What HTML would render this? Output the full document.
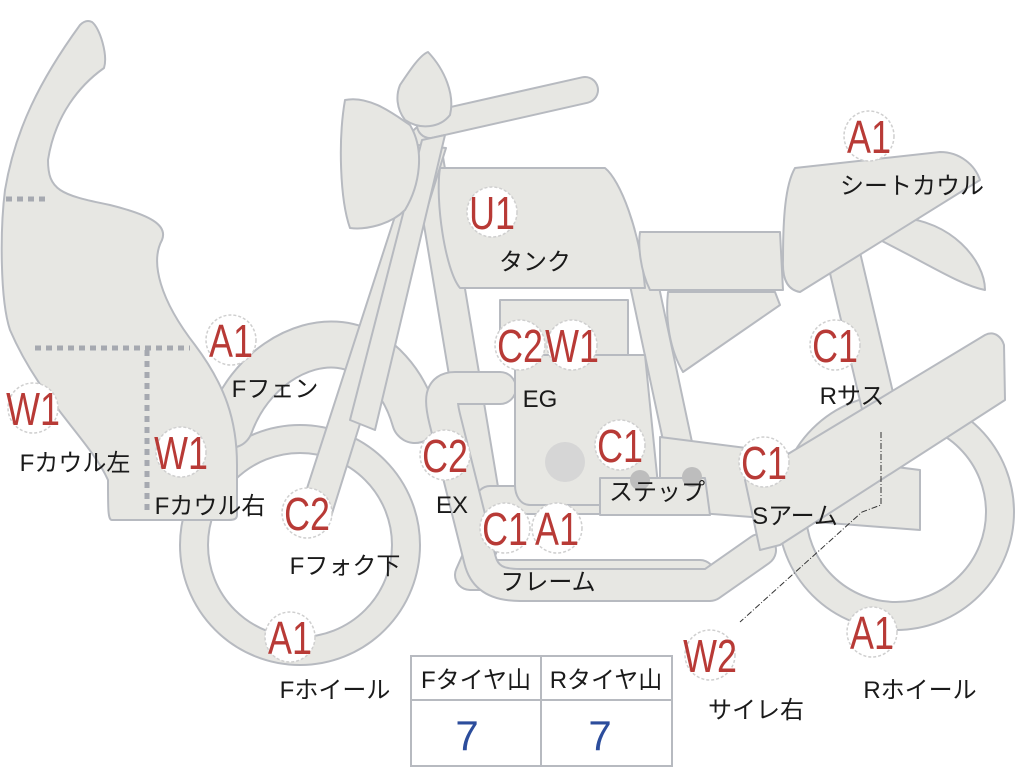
<!DOCTYPE html>
<html><head><meta charset="utf-8"><style>
html,body{margin:0;padding:0;background:#fff;width:1024px;height:768px;overflow:hidden}
svg{display:block}
.p{fill:#e7e7e3;stroke:#b7bac0;stroke-width:2;stroke-linejoin:round}
.to{fill:none;stroke:#b7bac0;stroke-linecap:round;stroke-linejoin:round}
.ti{fill:none;stroke:#e7e7e3;stroke-linecap:round;stroke-linejoin:round}
.c{fill:#fff;stroke:#cfcfcf;stroke-width:1.5;stroke-dasharray:3 2}
.r{fill:#b83a36;font-family:"Liberation Sans",sans-serif;font-size:46px}
.k{fill:#1a1a1a;font-family:"Liberation Sans","Noto Sans CJK JP",sans-serif;font-size:24px}
</style></head><body>
<svg width="1024" height="768" viewBox="0 0 1024 768">
<circle cx="300" cy="545" r="106" class="to" stroke-width="30"/>
<circle cx="300" cy="545" r="106" class="ti" stroke-width="26"/>
<circle cx="896" cy="512" r="104" class="to" stroke-width="30"/>
<circle cx="896" cy="512" r="104" class="ti" stroke-width="26"/>
<path d="M230,425 C250,370 300,340 340,345 C380,350 405,385 415,420" class="to" stroke-width="48"/>
<path d="M230,425 C250,370 300,340 340,345 C380,350 405,385 415,420" class="ti" stroke-width="44"/>
<path d="M425,140 L490,530 L470,575 L700,575" class="to" stroke-width="32"/>
<path d="M425,140 L490,530 L470,575 L700,575" class="ti" stroke-width="28"/>
<path d="M640,265 L690,500 L490,500" class="to" stroke-width="30"/>
<path d="M640,265 L690,500 L490,500" class="ti" stroke-width="26"/>
<path d="M500,388 L455,388 C440,388 440,400 445,420 L480,560 C485,580 500,585 520,585 L710,585 L760,550" class="to" stroke-width="34"/>
<path d="M500,388 L455,388 C440,388 440,400 445,420 L480,560 C485,580 500,585 520,585 L710,585 L760,550" class="ti" stroke-width="30"/>
<path d="M430,125 L585,90" class="to" stroke-width="28"/>
<path d="M430,125 L585,90" class="ti" stroke-width="24"/>
<path d="M842,250 L882,420" class="to" stroke-width="36"/>
<path d="M842,250 L882,420" class="ti" stroke-width="32"/>
<path d="M668,292 L775,292 L780,305 L683,372 C670,350 665,320 668,292 Z" class="p"/>
<path d="M900,218 C950,220 985,260 985,290 C960,285 930,265 880,240 Z" class="p"/>
<path d="M500,300 L628,300 L628,355 L500,355 Z" class="p"/>
<path d="M515,355 L645,355 L660,505 L530,505 C520,505 515,495 515,485 Z" class="p"/>
<circle cx="565" cy="462" r="20" fill="#d6d6d6"/>
<path d="M660,437 L920,470 L920,530 L660,510 Z" class="p"/>
<path d="M600,478 L705,478 L710,515 L600,515 Z" class="p"/>
<circle cx="640" cy="480" r="10" fill="#bdbdbd"/><circle cx="692" cy="477" r="10" fill="#bdbdbd"/>
<path d="M745,480 L985,335 C995,330 1002,338 1004,345 L1005,400 L780,545 L760,550 Z" class="p"/>
<path d="M300,510 L418,145 L446,148 L330,520 Z" class="p"/>
<path d="M422,140 L445,135 L375,430 L350,420 Z" class="p"/>
<path d="M345,100 C370,95 395,115 410,125 C425,150 420,185 405,210 C390,225 365,230 350,228 C340,200 338,140 345,100 Z" class="p"/>
<path d="M400,85 C410,70 420,55 428,52 C445,70 455,95 450,115 C440,128 420,130 405,120 C396,108 396,95 400,85 Z" class="p"/>
<path d="M440,168 L605,168 C620,180 640,230 645,288 L460,288 C445,270 435,200 440,168 Z" class="p"/>
<path d="M640,232 L780,232 L783,290 L650,290 C640,270 638,245 640,232 Z" class="p"/>
<path d="M795,168 L940,152 C960,152 975,165 980,180 L800,292 C788,290 782,280 783,260 C783,220 785,185 795,168 Z" class="p"/>
<path d="M92,22 C100,28 108,55 104,68 C80,85 55,115 48,160 C48,190 60,195 110,205 C150,215 168,225 162,240 C150,262 160,300 195,345 C225,385 237,420 237,465 L237,515 C237,520 232,520 228,520 L112,520 C108,520 108,510 108,480 C90,440 40,400 10,330 C0,300 0,230 5,190 C15,130 40,80 80,25 C84,21 88,20 92,22 Z" class="p"/>
<path d="M6,199 L48,199 M35,348 L190,348 M147,350 L147,515" fill="none" stroke="#a6a9b0" stroke-width="5" stroke-dasharray="6 5"/>
<path d="M881,432 L881,505 L862,512 L740,622" fill="none" stroke="#333" stroke-width="1" stroke-dasharray="6 2 1 2"/>
<rect x="411" y="656" width="261" height="110" fill="#fff" stroke="#b7bac0" stroke-width="2"/>
<line x1="411" y1="700" x2="672" y2="700" stroke="#b7bac0" stroke-width="2"/>
<line x1="541" y1="656" x2="541" y2="766" stroke="#b7bac0" stroke-width="2"/>
<text x="476" y="688" class="k" text-anchor="middle">Fタイヤ山</text>
<text x="606" y="688" class="k" text-anchor="middle">Rタイヤ山</text>
<text x="467" y="750" text-anchor="middle" font-family="Liberation Sans,sans-serif" font-size="42" fill="#2c4d9c">7</text>
<text x="600" y="750" text-anchor="middle" font-family="Liberation Sans,sans-serif" font-size="42" fill="#2c4d9c">7</text>
<g>
<circle cx="231" cy="340" r="25" class="c"/><text class="r" text-anchor="middle" transform="translate(231,357) scale(0.78,1)">A1</text>
<circle cx="33" cy="408" r="25" class="c"/><text class="r" text-anchor="middle" transform="translate(33,425) scale(0.78,1)">W1</text>
<circle cx="181" cy="452" r="25" class="c"/><text class="r" text-anchor="middle" transform="translate(181,469) scale(0.78,1)">W1</text>
<circle cx="307" cy="513" r="25" class="c"/><text class="r" text-anchor="middle" transform="translate(307,530) scale(0.78,1)">C2</text>
<circle cx="290" cy="637" r="25" class="c"/><text class="r" text-anchor="middle" transform="translate(290,654) scale(0.78,1)">A1</text>
<circle cx="492" cy="212" r="25" class="c"/><text class="r" text-anchor="middle" transform="translate(492,229) scale(0.78,1)">U1</text>
<circle cx="520" cy="345" r="25" class="c"/><text class="r" text-anchor="middle" transform="translate(520,362) scale(0.78,1)">C2</text>
<circle cx="572" cy="345" r="25" class="c"/><text class="r" text-anchor="middle" transform="translate(572,362) scale(0.78,1)">W1</text>
<circle cx="445" cy="455" r="25" class="c"/><text class="r" text-anchor="middle" transform="translate(445,472) scale(0.78,1)">C2</text>
<circle cx="620" cy="445" r="25" class="c"/><text class="r" text-anchor="middle" transform="translate(620,462) scale(0.78,1)">C1</text>
<circle cx="505" cy="528" r="25" class="c"/><text class="r" text-anchor="middle" transform="translate(505,545) scale(0.78,1)">C1</text>
<circle cx="557" cy="528" r="25" class="c"/><text class="r" text-anchor="middle" transform="translate(557,545) scale(0.78,1)">A1</text>
<circle cx="869" cy="136" r="25" class="c"/><text class="r" text-anchor="middle" transform="translate(869,153) scale(0.78,1)">A1</text>
<circle cx="835" cy="345" r="25" class="c"/><text class="r" text-anchor="middle" transform="translate(835,362) scale(0.78,1)">C1</text>
<circle cx="764" cy="462" r="25" class="c"/><text class="r" text-anchor="middle" transform="translate(764,479) scale(0.78,1)">C1</text>
<circle cx="710" cy="655" r="25" class="c"/><text class="r" text-anchor="middle" transform="translate(710,672) scale(0.78,1)">W2</text>
<circle cx="872" cy="632" r="25" class="c"/><text class="r" text-anchor="middle" transform="translate(872,649) scale(0.78,1)">A1</text>
</g>
<g class="k" text-anchor="middle">
<text x="275" y="397">Fフェン</text>
<text x="75" y="471">Fカウル左</text>
<text x="210" y="514">Fカウル右</text>
<text x="345" y="574">Fフォク下</text>
<text x="335" y="698">Fホイール</text>
<text x="535" y="270">タンク</text>
<text x="540" y="407">EG</text>
<text x="452" y="513">EX</text>
<text x="657" y="500">ステップ</text>
<text x="548" y="590">フレーム</text>
<text x="912" y="194">シートカウル</text>
<text x="852" y="404">Rサス</text>
<text x="795" y="524">Sアーム</text>
<text x="756" y="718">サイレ右</text>
<text x="920" y="698">Rホイール</text>
</g>
</svg>
</body></html>
